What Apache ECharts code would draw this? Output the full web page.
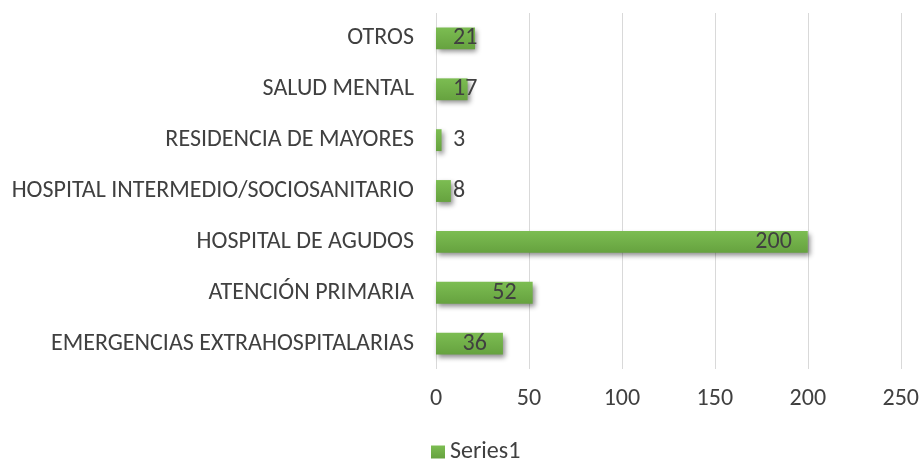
<!DOCTYPE html>
<html>
<head>
<meta charset="utf-8">
<script src="https://cdn.jsdelivr.net/npm/echarts@6/dist/echarts.min.js"></script>
<style>
  html, body { margin: 0; padding: 0; background: #fff; }
  #chart { width: 922px; height: 462px; }
</style>
</head>
<body>
<div id="chart"></div>
<script>
// categories from bottom to top (echarts draws the first one at the bottom)
var categories = [
    'EMERGENCIAS EXTRAHOSPITALARIAS',
    'ATENCIÓN PRIMARIA',
    'HOSPITAL DE AGUDOS',
    'HOSPITAL INTERMEDIO/SOCIOSANITARIO',
    'RESIDENCIA DE MAYORES',
    'SALUD MENTAL',
    'OTROS'
];
var values = [36, 52, 200, 8, 3, 17, 21];
var xTicks = [0, 50, 100, 150, 200, 250];

var font = 'Carlito, "Liberation Sans Narrow", "Open Sans", sans-serif';
var textColor = '#404040';
var fs = 24;

// short bars: label starts near the axis, long bars: label sits inside the end
var barData = values.map(function (v) {
    return {
        value: v,
        label: {
            position: v < 30 ? 'insideLeft' : 'insideRight',
            distance: v < 30 ? 17 : 16
        }
    };
});

var option = {
    backgroundColor: '#fff',
    animation: false,
    grid: {
        left: 436,
        right: 17,
        top: 13,
        bottom: 93
    },
    legend: {
        bottom: -7,
        left: 426,
        itemWidth: 14,
        itemHeight: 13,
        icon: 'rect',
        textStyle: { fontFamily: font, fontSize: fs, color: textColor },
        data: ['Series1']
    },
    xAxis: {
        type: 'value',
        min: xTicks[0],
        max: xTicks[xTicks.length - 1],
        interval: 50,
        axisLine: { show: false },
        axisTick: { show: false },
        axisLabel: { fontFamily: font, fontSize: fs, color: textColor, margin: 18 },
        splitLine: { lineStyle: { color: '#d9d9d9', width: 1 } }
    },
    yAxis: {
        type: 'category',
        data: categories,
        axisLine: { show: false },
        axisTick: { show: false },
        axisLabel: { fontFamily: font, fontSize: fs, color: textColor, margin: 22 }
    },
    series: [{
        name: 'Series1',
        type: 'bar',
        data: barData,
        barCategoryGap: '57%',
        itemStyle: {
            color: new echarts.graphic.LinearGradient(0, 0, 0, 1, [
                { offset: 0, color: '#7cbd52' },
                { offset: 1, color: '#66a23f' }
            ]),
            shadowColor: 'rgba(0,0,0,0.45)',
            shadowBlur: 5,
            shadowOffsetX: 2,
            shadowOffsetY: 3
        },
        label: {
            show: true,
            fontFamily: font,
            fontSize: fs,
            color: textColor
        }
    }]
};

var myChart = echarts.init(document.getElementById('chart'));
myChart.setOption(option);
</script>
</body>
</html>
